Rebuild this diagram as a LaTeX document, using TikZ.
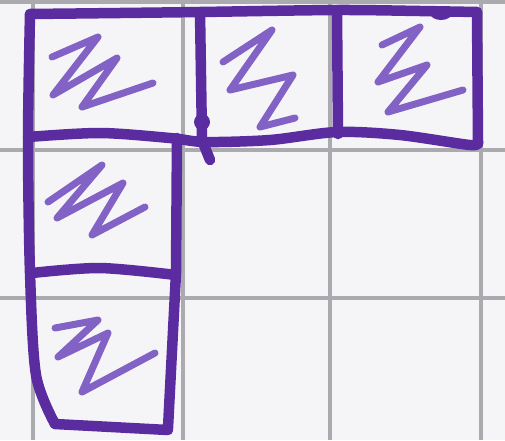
\documentclass[tikz,border=0pt]{standalone}
\begin{document}
\begin{tikzpicture}[x=1pt,y=-1pt,
  gridline/.style={draw=gridgray,line width=3.5pt},
  ink/.style={draw=inkpurple,line width=10.5pt,line cap=round,line join=round},
  scrib/.style={draw=scribpurple,line width=7pt,line cap=round,line join=round}]
\definecolor{paper}{HTML}{F5F5F8}
\definecolor{gridgray}{HTML}{ABABAF}
\definecolor{inkpurple}{HTML}{5A2CA0}
\definecolor{scribpurple}{HTML}{8262C4}
\fill[paper] (0,0) rectangle (505,440);
\useasboundingbox (0,0) rectangle (505,440);
% grid
\foreach \gx in {33,183,330,481} \draw[gridline] (\gx,0) -- (\gx,440);
\foreach \gy in {2,150,298} \draw[gridline] (0,\gy) -- (505,\gy);
% outline of the diagram
\draw[ink] plot[smooth,tension=0.5] coordinates {(30,14) (120,13) (200,12) (337,10) (420,11) (477,12)};
\draw[ink] (477,12) -- (478,142);
\draw[ink] plot[smooth,tension=0.5] coordinates {(28,137) (100,133) (170,138) (205,142) (270,140) (337,132) (400,135) (470,145) (478,142)};
\draw[ink] (200,12) -- (202,140) -- (210,160);
\fill[inkpurple] (202,122) circle (8);
\fill[inkpurple] (441,13) ellipse (11 and 7);
\draw[ink] (337,10) -- (338,134);
\draw[ink] plot[smooth,tension=0.5] coordinates {(30,14) (28,140) (30,273) (36,375) (55,424)};
\draw[ink] (177,138) -- (176,273) -- (168,428);
\draw[ink] plot[smooth,tension=0.5] coordinates {(32,273) (100,268) (176,275)};
\draw[ink] (55,424) -- (168,430);
% scribbles
\draw[scrib] (52,57) -- (98,37) -- (53,95) -- (117,58) -- (82,107) -- (153,83);
\draw[scrib] (223,62) -- (272,30) -- (230,90) -- (293,75) -- (260,127) -- (295,118);
\draw[scrib] (382,45) -- (420,27) -- (378,82) -- (427,65) -- (388,112) -- (463,90);
\draw[scrib] (48,202) -- (102,165) -- (57,218) -- (123,183) -- (92,235) -- (145,207);
\draw[scrib] (55,328) -- (98,320) -- (58,357) -- (108,333) -- (82,392) -- (155,353);
\end{tikzpicture}
\end{document}
